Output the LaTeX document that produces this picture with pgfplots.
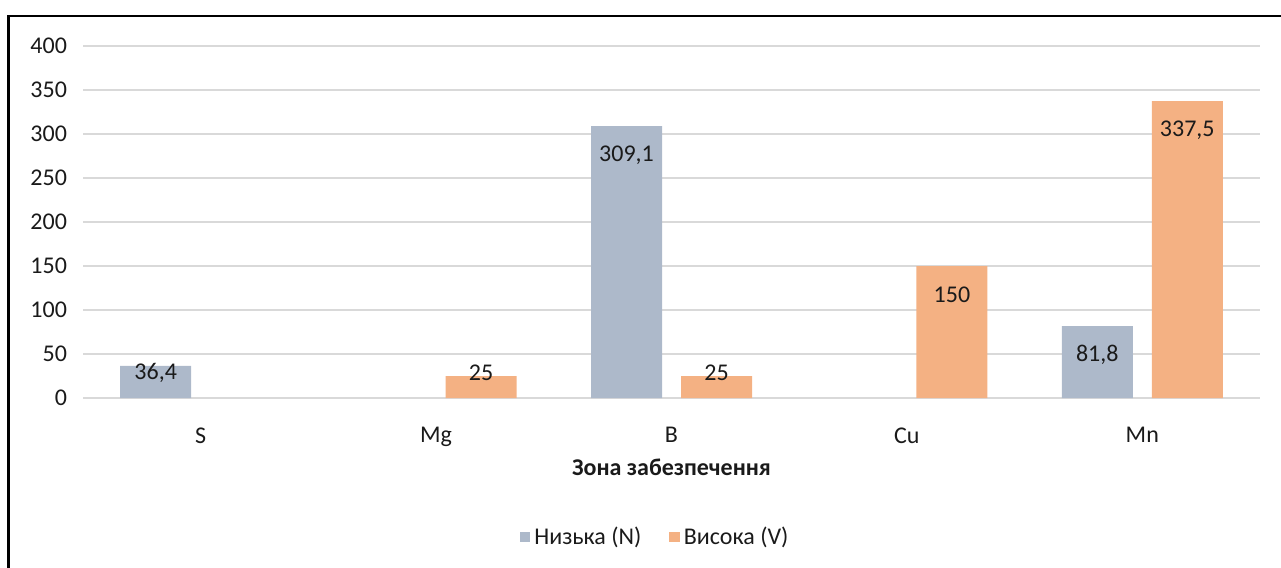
\documentclass[border=0pt]{standalone}
\usepackage{pgfplots}
\pgfplotsset{compat=1.18}
\usepackage{pgfplotstable}
\usepackage{fontspec}
\setmainfont{Carlito}

\definecolor{nizka}{HTML}{ADB9CA}
\definecolor{vysoka}{HTML}{F4B183}
\definecolor{gridgray}{HTML}{D9D9D9}
\definecolor{txt}{HTML}{1A1A1A}
\newcommand\cf{\fontsize{12bp}{14bp}\selectfont}

% x = category (0=S ... 4=Mn), dy = label offset from bar top (bp)
\pgfplotstableread{
x y dy
0 36.4 -3.5
2 309.1 -14.5
4 81.8 -14.5
}\lowdata
\pgfplotstableread{
x y dy
1 25 1.5
2 25 1.5
3 150 -14.5
4 337.5 -14.5
}\highdata

\begin{document}
\begin{tikzpicture}
\begin{axis}[
  at={(41.5bp,-199bp)}, anchor=south west,
  scale only axis,
  width=588.5bp, height=176bp,
  ybar,
  bar width=35.5bp,
  xmin=-0.5, xmax=4.5,
  ymin=0, ymax=400,
  xtick={0,1,2,3,4},
  xticklabels={S,Mg,B,Cu,Mn},
  ytick={0,50,...,400},
  ymajorgrids,
  major grid style={draw=gridgray, line width=1bp},
  axis line style={draw=none},
  tick style={draw=none},
  /pgf/number format/assume math mode=true,
  /pgf/number format/use comma,
  ticklabel style={font=\cf, text=txt},
  yticklabel style={xshift=-4.5bp},
  xticklabel style={yshift=-7bp},
  xlabel={\textbf{Зона забезпечення}},
  xlabel style={at={(axis description cs:0.5,0)}, anchor=center, yshift=-34.5bp, font=\cf, text=txt},
  legend style={at={(axis description cs:0.487,0)}, anchor=center, yshift=-69.5bp,
    draw=none, fill=none, font=\cf, text=txt, legend columns=2,
    /tikz/every even column/.append style={column sep=12bp}},
  legend image code/.code={\fill[#1] (0bp,-2.6bp) rectangle (5.2bp,2.6bp);},
]
\addplot[fill=nizka, draw=none, bar shift=-22.5bp,
  visualization depends on={\thisrow{dy} \as \labdy},
  nodes near coords,
  nodes near coords style={font=\cf, text=txt, anchor=center, yshift=\labdy bp}]
  table[x=x, y=y] {\lowdata};
\addlegendentry{Низька (N)}
\addplot[fill=vysoka, draw=none, bar shift=22.5bp,
  visualization depends on={\thisrow{dy} \as \labdy},
  nodes near coords,
  nodes near coords style={font=\cf, text=txt, anchor=center, yshift=\labdy bp}]
  table[x=x, y=y] {\highdata};
\addlegendentry{Висока (V)}
\end{axis}
\draw[line width=1.2bp] (4.3bp,-290bp) -- (4.3bp,-8bp) -- (645bp,-8bp);
\pgfresetboundingbox
\path[use as bounding box] (0,0) rectangle (640.5bp,-284bp);
\end{tikzpicture}
\end{document}
